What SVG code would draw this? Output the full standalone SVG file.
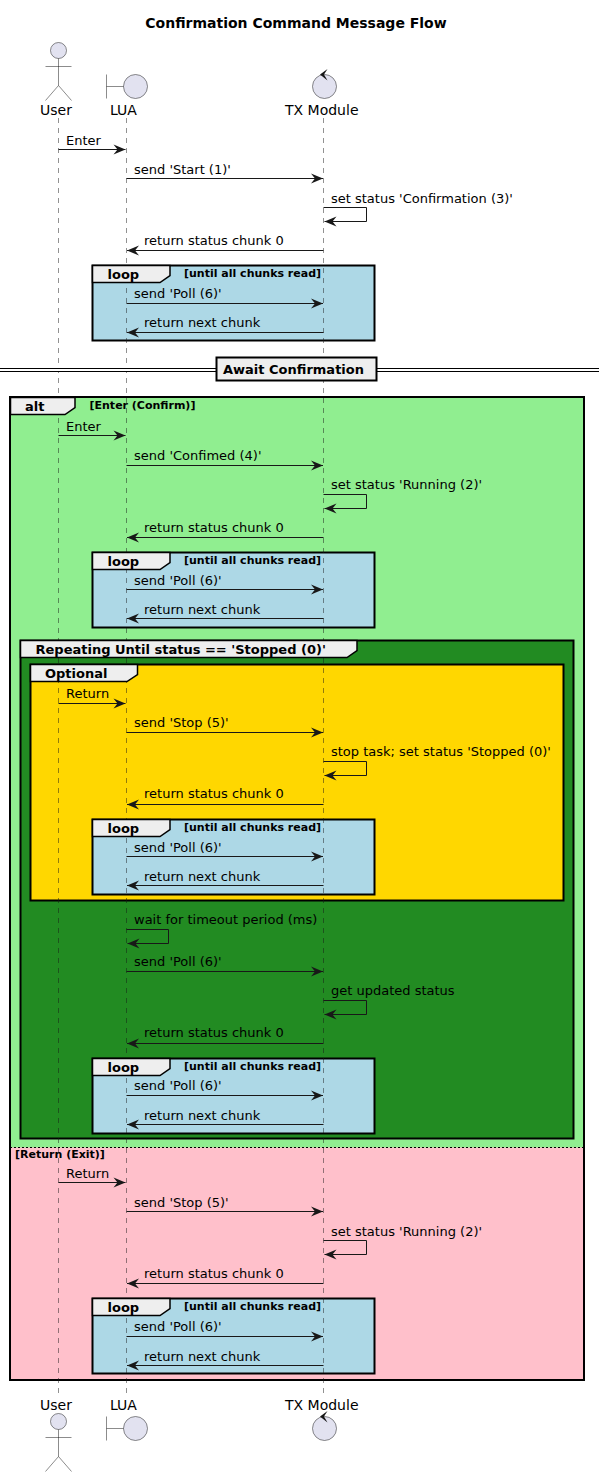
<svg xmlns="http://www.w3.org/2000/svg" width="599" height="1477" viewBox="0 0 599 1477">
<style>
text{font-family:"DejaVu Sans",sans-serif;fill:#000}
.m{font-size:13px}
.p{font-size:14px}
.g{font-size:13px;font-weight:bold}
.c{font-size:11px;font-weight:bold}
.life{stroke:#181818;stroke-width:.6;stroke-dasharray:5,5;fill:none;opacity:.8}
.f{stroke:#000;stroke-width:2}
.tab{fill:#EEEEEE;stroke:#000;stroke-width:1.5}
.msg{stroke:#181818;stroke-width:1;fill:none;marker-end:url(#a)}
.ent{fill:#E2E2F0;stroke:#181818;stroke-width:.5}
.st{fill:none;stroke:#181818;stroke-width:.5}
</style>
<defs>
<marker id="a" markerUnits="userSpaceOnUse" markerWidth="14" markerHeight="12" refX="12.500" refY="5.500" orient="auto"><polygon points="0.500,0.500 12.500,5.500 0.500,10.500 4.500,5.500" fill="#181818"/></marker>
</defs>
<text x="296" y="28" text-anchor="middle" font-size="14" font-weight="bold">Confirmation Command Message Flow</text>

<g id="frame-fills">
<rect class="f" x="10" y="397" width="574" height="983" fill="#90EE90"/>
<rect x="11" y="1147.5" width="572" height="231.5" fill="#FFC0CB"/>
<line x1="10" y1="1147.5" x2="584" y2="1147.5" stroke="#000" stroke-width="1" stroke-dasharray="2,2"/>
<rect class="f" x="20.500" y="640.500" width="553" height="498" fill="#228B22"/>
<rect class="f" x="30.500" y="664.500" width="533" height="236" fill="#FFD700"/>
<rect class="f" x="92.500" y="265.500" width="282" height="75" fill="#ADD8E6"/>
<rect class="f" x="92.500" y="552.500" width="282" height="75" fill="#ADD8E6"/>
<rect class="f" x="92.500" y="819.500" width="282" height="75" fill="#ADD8E6"/>
<rect class="f" x="92.500" y="1058.500" width="282" height="75" fill="#ADD8E6"/>
<rect class="f" x="92.500" y="1298.500" width="282" height="75" fill="#ADD8E6"/>
</g>

<g id="lifelines">
<line class="life" x1="58.500" y1="118" x2="58.500" y2="1394"/>
<line class="life" x1="126.500" y1="118" x2="126.500" y2="1394"/>
<line class="life" x1="323.500" y1="118" x2="323.500" y2="1394"/>
</g>

<g id="frames">
<g id="loop-1"><path class="tab" d="M92.500,265.500H170V275.500L160,282.500H92.500Z"/><text class="g" x="107.500" y="279">loop</text><text class="c" x="184" y="277">[until all chunks read]</text></g>
<g id="alt-1"><path class="tab" d="M10.500,397.500H75V407.500L65,414.500H10.500Z"/><text class="g" x="25" y="411">alt</text><text class="c" x="89.500" y="409">[Enter (Confirm)]</text><text class="c" x="15" y="1158">[Return (Exit)]</text></g>
<g id="loop-2"><path class="tab" d="M92.500,552.500H170V562.500L160,569.500H92.500Z"/><text class="g" x="107.500" y="566">loop</text><text class="c" x="184" y="564">[until all chunks read]</text></g>
<g id="repeat"><path class="tab" d="M20.500,640.500H357V650.500L347,657.500H20.500Z"/><text class="g" x="35.500" y="654">Repeating Until status == 'Stopped (0)'</text></g>
<g id="optional"><path class="tab" d="M30.500,664.500H137.500V674.500L127,681.500H30.500Z"/><text class="g" x="45" y="678">Optional</text></g>
<g id="loop-3"><path class="tab" d="M92.500,819.500H170V829.500L160,836.500H92.500Z"/><text class="g" x="107.500" y="833">loop</text><text class="c" x="184" y="831">[until all chunks read]</text></g>
<g id="loop-4"><path class="tab" d="M92.500,1058.500H170V1068.500L160,1075.500H92.500Z"/><text class="g" x="107.500" y="1072">loop</text><text class="c" x="184" y="1070">[until all chunks read]</text></g>
<g id="loop-5"><path class="tab" d="M92.500,1298.500H170V1308.500L160,1315.500H92.500Z"/><text class="g" x="107.500" y="1312">loop</text><text class="c" x="184" y="1310">[until all chunks read]</text></g>
</g>

<g id="divider">
<rect x="0" y="368" width="599" height="3" fill="#fff"/>
<line x1="0" y1="368.500" x2="599" y2="368.500" stroke="#000" stroke-width="1"/>
<line x1="0" y1="371.500" x2="599" y2="371.500" stroke="#000" stroke-width="1"/>
<rect x="216.500" y="357.500" width="160" height="23" fill="#EEEEEE" stroke="#000" stroke-width="2"/>
<text class="g" x="223" y="374">Await Confirmation</text>
</g>

<g id="connectors">
<line class="msg" x1="58.500" y1="149.500" x2="125.500" y2="149.500"/>
<line class="msg" x1="126.500" y1="178.500" x2="323" y2="178.500"/>
<path class="msg" d="M323.500,207.500H366.500V221.500H324.500"/>
<line class="msg" x1="323.500" y1="250.500" x2="127" y2="250.500"/>
<line class="msg" x1="126.500" y1="303.500" x2="323" y2="303.500"/>
<line class="msg" x1="323.500" y1="332.500" x2="127" y2="332.500"/>

<line class="msg" x1="58.500" y1="435.500" x2="125.500" y2="435.500"/>
<line class="msg" x1="126.500" y1="465.500" x2="323" y2="465.500"/>
<path class="msg" d="M323.500,494.500H366.500V508.500H324.500"/>
<line class="msg" x1="323.500" y1="537.500" x2="127" y2="537.500"/>
<line class="msg" x1="126.500" y1="589.500" x2="323" y2="589.500"/>
<line class="msg" x1="323.500" y1="618.500" x2="127" y2="618.500"/>

<line class="msg" x1="58.500" y1="703.500" x2="125.500" y2="703.500"/>
<line class="msg" x1="126.500" y1="732.500" x2="323" y2="732.500"/>
<path class="msg" d="M323.500,761.500H366.500V775.500H324.500"/>
<line class="msg" x1="323.500" y1="804.500" x2="127" y2="804.500"/>
<line class="msg" x1="126.500" y1="856.500" x2="323" y2="856.500"/>
<line class="msg" x1="323.500" y1="885.500" x2="127" y2="885.500"/>

<path class="msg" d="M126.500,929.500H168.500V943.500H127.500"/>
<line class="msg" x1="126.500" y1="971.500" x2="323" y2="971.500"/>
<path class="msg" d="M323.500,1000.500H366.500V1014.500H324.500"/>
<line class="msg" x1="323.500" y1="1043.500" x2="127" y2="1043.500"/>
<line class="msg" x1="126.500" y1="1095.500" x2="323" y2="1095.500"/>
<line class="msg" x1="323.500" y1="1124.500" x2="127" y2="1124.500"/>

<line class="msg" x1="58.500" y1="1182.500" x2="125.500" y2="1182.500"/>
<line class="msg" x1="126.500" y1="1211.500" x2="323" y2="1211.500"/>
<path class="msg" d="M323.500,1240.500H366.500V1254.500H324.500"/>
<line class="msg" x1="323.500" y1="1283.500" x2="127" y2="1283.500"/>
<line class="msg" x1="126.500" y1="1336.500" x2="323" y2="1336.500"/>
<line class="msg" x1="323.500" y1="1365.500" x2="127" y2="1365.500"/>
</g>

<g id="labels">
<text class="m" x="66" y="145">Enter</text>
<text class="m" x="134" y="174">send 'Start (1)'</text>
<text class="m" x="331" y="203">set status 'Confirmation (3)'</text>
<text class="m" x="144" y="245">return status chunk 0</text>
<text class="m" x="134" y="298">send 'Poll (6)'</text>
<text class="m" x="144" y="327">return next chunk</text>

<text class="m" x="66" y="431">Enter</text>
<text class="m" x="134" y="460">send 'Confimed (4)'</text>
<text class="m" x="331" y="489">set status 'Running (2)'</text>
<text class="m" x="144" y="532">return status chunk 0</text>
<text class="m" x="134" y="585">send 'Poll (6)'</text>
<text class="m" x="144" y="614">return next chunk</text>

<text class="m" x="66" y="698">Return</text>
<text class="m" x="134" y="727">send 'Stop (5)'</text>
<text class="m" x="331" y="756">stop task; set status 'Stopped (0)'</text>
<text class="m" x="144" y="798">return status chunk 0</text>
<text class="m" x="134" y="852">send 'Poll (6)'</text>
<text class="m" x="144" y="881">return next chunk</text>

<text class="m" x="134" y="924">wait for timeout period (ms)</text>
<text class="m" x="134" y="966">send 'Poll (6)'</text>
<text class="m" x="331" y="995">get updated status</text>
<text class="m" x="144" y="1037">return status chunk 0</text>
<text class="m" x="134" y="1090">send 'Poll (6)'</text>
<text class="m" x="144" y="1120">return next chunk</text>

<text class="m" x="66" y="1178">Return</text>
<text class="m" x="134" y="1207">send 'Stop (5)'</text>
<text class="m" x="331" y="1236">set status 'Running (2)'</text>
<text class="m" x="144" y="1278">return status chunk 0</text>
<text class="m" x="134" y="1331">send 'Poll (6)'</text>
<text class="m" x="144" y="1361">return next chunk</text>
</g>

<g id="user-top">
<circle class="ent" cx="58.500" cy="50.500" r="8"/>
<path class="st" d="M58.500,58.500V85.500M45.500,66.500H71.500M45.500,100.500L58.500,85.500L71.500,100.500"/>
<text class="p" x="40" y="115">User</text>
</g>
<g id="lua-top">
<circle class="ent" cx="135.500" cy="86.500" r="12"/>
<path class="st" d="M106.500,74.500V98.500M106.500,86.500H123.500"/>
<text class="p" x="110" y="115">LUA</text>
</g>
<g id="tx-top">
<circle class="ent" cx="324.500" cy="86.500" r="12"/>
<polygon points="327.500,69 320,74.500 327.500,80.500 324,74.500" fill="#181818"/>
<text class="p" x="285" y="115">TX Module</text>
</g>

<g id="user-bottom">
<text class="p" x="40" y="1410">User</text>
<circle class="ent" cx="58.500" cy="1421.500" r="8"/>
<path class="st" d="M58.500,1429.500V1456.500M45.500,1437.500H71.500M45.500,1471.500L58.500,1456.500L71.500,1471.500"/>
</g>
<g id="lua-bottom">
<text class="p" x="110" y="1410">LUA</text>
<circle class="ent" cx="135.500" cy="1428.500" r="12"/>
<path class="st" d="M106.500,1416.500V1440.500M106.500,1428.500H123.500"/>
</g>
<g id="tx-bottom">
<text class="p" x="285" y="1410">TX Module</text>
<circle class="ent" cx="324.500" cy="1428.500" r="12"/>
<polygon points="327.500,1411 320,1416.500 327.500,1422.500 324,1416.500" fill="#181818"/>
</g>
</svg>
